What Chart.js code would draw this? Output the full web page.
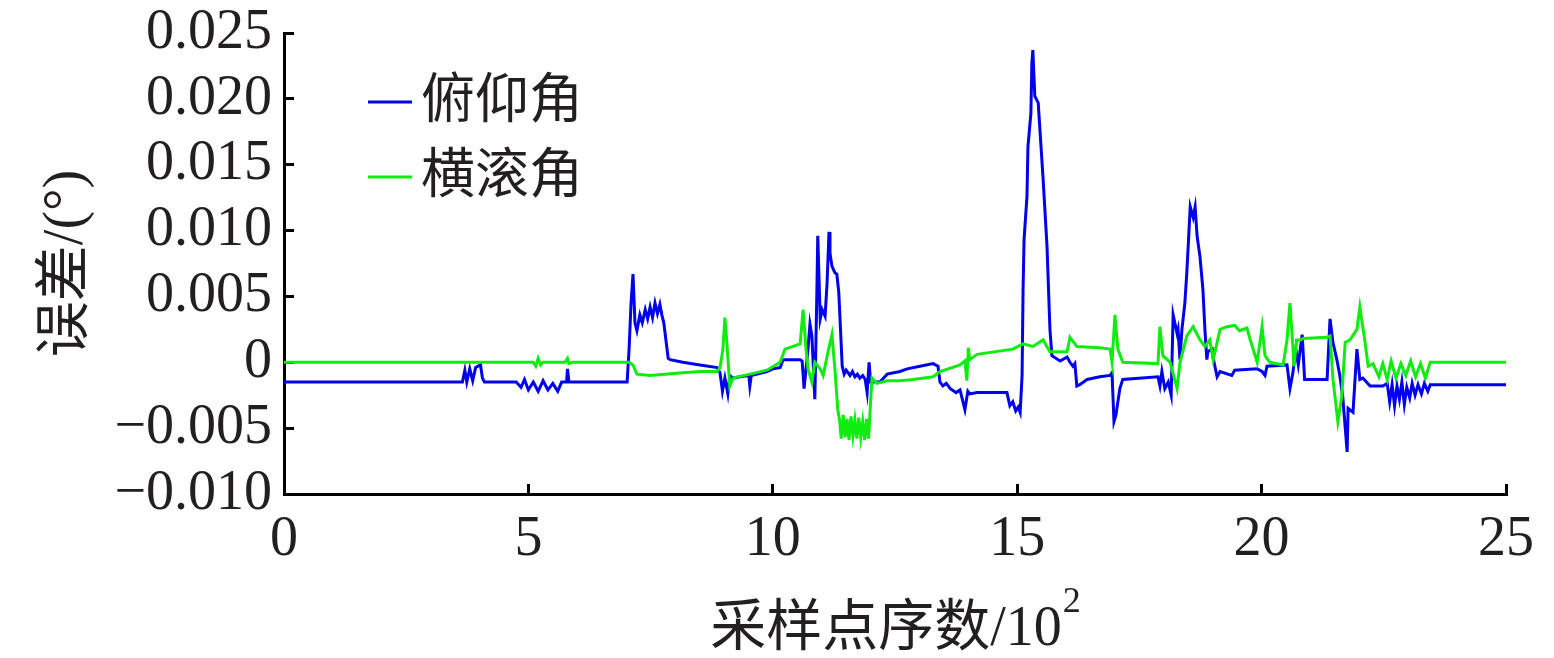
<!DOCTYPE html>
<html>
<head>
<meta charset="utf-8">
<script src="https://cdn.jsdelivr.net/npm/chart.js@4/dist/chart.umd.min.js"></script>
<style>
  html, body { margin: 0; padding: 0; background: #fff; }
  #wrap { width: 1554px; height: 658px; }
</style>
</head>
<body>
<div id="wrap"><canvas id="errChart" width="1554" height="658"></canvas></div>
<script>
// axis ticks
const xTicks = [0, 5, 10, 15, 20, 25];
const yTicks = [-0.010, -0.005, 0, 0.005, 0.010, 0.015, 0.020, 0.025];

const seriesNames = ['俯仰角', '横滚角'];

// 俯仰角 error, [sample index / 10^2, error in degrees]
const pitchPoints = [
  [0, -0.0015], [3.65, -0.0015], [3.70, -0.0006], [3.74, -0.0015], [3.80, -0.0005], [3.86, -0.0014],
  [3.92, -0.0004], [4.02, -0.0002], [4.06, -0.0012], [4.10, -0.0015], [4.75, -0.0015], [4.85, -0.0019],
  [4.92, -0.0013], [5.00, -0.0021], [5.10, -0.0015], [5.20, -0.0022], [5.30, -0.0014], [5.40, -0.0021],
  [5.50, -0.0016], [5.60, -0.0022], [5.68, -0.0015], [5.78, -0.0015], [5.80, -0.0005], [5.83, -0.0015],
  [7.02, -0.0015], [7.06, 0.0010], [7.10, 0.0045], [7.14, 0.0067], [7.18, 0.0030], [7.22, 0.0024],
  [7.28, 0.0036], [7.33, 0.0030], [7.39, 0.0040], [7.44, 0.0033], [7.49, 0.0042], [7.54, 0.0034],
  [7.59, 0.0045], [7.64, 0.0037], [7.69, 0.0044], [7.73, 0.0036], [7.77, 0.0030], [7.86, 0.0003],
  [7.90, 0.0002], [8.16, 0.0000], [8.51, -0.0002], [8.86, -0.0004], [8.92, -0.0008], [8.97, -0.0022],
  [9.02, -0.0012], [9.08, -0.0024], [9.12, -0.0010], [9.19, -0.0012], [9.33, -0.0011], [9.51, -0.0010],
  [9.53, -0.0018], [9.56, -0.0010], [9.88, -0.0007], [10.00, -0.0005], [10.15, -0.0004], [10.21, 0.0002],
  [10.56, 0.0002], [10.60, 0.0001], [10.64, -0.0020], [10.72, 0.0010], [10.76, 0.0029], [10.80, 0.0020],
  [10.86, -0.0028], [10.90, 0.0050], [10.92, 0.0096], [10.97, 0.0033], [11.01, 0.0040], [11.07, 0.0035],
  [11.11, 0.0060], [11.15, 0.0099], [11.17, 0.0083], [11.21, 0.0073], [11.27, 0.0068], [11.31, 0.0067],
  [11.35, 0.0053], [11.42, -0.0003], [11.46, -0.0009], [11.50, -0.0006], [11.58, -0.0010], [11.63, -0.0007],
  [11.68, -0.0011], [11.73, -0.0009], [11.78, -0.0012], [11.84, -0.0010], [11.89, -0.0013], [11.93, -0.0023],
  [11.97, 0.0000], [12.00, -0.0015], [12.19, -0.0015], [12.34, -0.0009], [12.60, -0.0007], [12.75, -0.0005],
  [13.01, -0.0003], [13.28, -0.0001], [13.38, -0.0003], [13.42, -0.0015], [13.48, -0.0018], [13.55, -0.0016],
  [13.63, -0.0020], [13.75, -0.0023], [13.83, -0.0021], [13.93, -0.0036], [13.99, -0.0022], [14.03, -0.0024],
  [14.18, -0.0023], [14.44, -0.0023], [14.79, -0.0023], [14.85, -0.0033], [14.91, -0.0030], [14.97, -0.0037],
  [15.02, -0.0034], [15.06, -0.0038], [15.10, -0.0010], [15.12, 0.0055], [15.14, 0.0093], [15.20, 0.0126],
  [15.22, 0.0164], [15.28, 0.0189], [15.30, 0.0227], [15.32, 0.0237], [15.36, 0.0202], [15.43, 0.0197],
  [15.53, 0.0139], [15.61, 0.0088], [15.67, 0.0025], [15.71, 0.0005], [15.88, 0.0001], [16.02, 0.0004],
  [16.08, 0.0000], [16.14, -0.0003], [16.18, -0.0001], [16.22, -0.0018], [16.28, -0.0017], [16.43, -0.0013],
  [16.69, -0.0011], [16.90, -0.0010], [16.94, -0.0008], [16.98, -0.0045], [17.02, -0.0040], [17.10, -0.0020],
  [17.16, -0.0013], [17.88, -0.0011], [17.92, -0.0018], [17.96, -0.0007], [18.02, -0.0020], [18.09, -0.0015],
  [18.15, -0.0025], [18.19, 0.0036], [18.27, 0.0022], [18.29, 0.0025], [18.33, 0.0002], [18.37, 0.0025],
  [18.43, 0.0045], [18.47, 0.0068], [18.54, 0.0118], [18.60, 0.0110], [18.64, 0.0118], [18.68, 0.0096],
  [18.74, 0.0080], [18.80, 0.0055], [18.84, 0.0025], [18.88, 0.0002], [18.90, 0.0008], [18.99, 0.0010],
  [19.01, 0.0003], [19.09, -0.0011], [19.15, -0.0007], [19.39, -0.0010], [19.45, -0.0006], [19.91, -0.0005],
  [20.01, -0.0007], [20.07, -0.0010], [20.11, -0.0003], [20.52, -0.0002], [20.58, -0.0020], [20.64, -0.0008],
  [20.70, 0.0010], [20.75, -0.0002], [20.83, 0.0021], [20.88, -0.0013], [21.34, -0.0013], [21.40, 0.0033],
  [21.46, 0.0015], [21.54, 0.0002], [21.60, -0.0010], [21.66, -0.0026], [21.75, -0.0068], [21.77, -0.0035],
  [21.87, -0.0038], [21.95, 0.0010], [22.01, -0.0013], [22.07, -0.0012], [22.22, -0.0018], [22.48, -0.0018],
  [22.57, -0.0016], [22.62, -0.0030], [22.67, -0.0017], [22.72, -0.0033], [22.77, -0.0018], [22.82, -0.0028],
  [22.87, -0.0015], [22.92, -0.0032], [22.97, -0.0019], [23.03, -0.0027], [23.08, -0.0016], [23.14, -0.0025],
  [23.20, -0.0017], [23.27, -0.0024], [23.33, -0.0016], [23.40, -0.0022], [23.45, -0.0017], [25.00, -0.0017]
];

// 横滚角 error
const rollPoints = [
  [0, 0], [5.10, 0], [5.15, -0.0003], [5.20, 0.0003], [5.25, -0.0002], [5.30, 0], [5.75, 0],
  [5.80, 0.0003], [5.83, -0.0001], [5.90, 0], [7.06, 0], [7.14, -0.0002], [7.22, -0.0009],
  [7.49, -0.0010], [8.16, -0.0008], [8.51, -0.0007], [8.86, -0.0007], [8.92, -0.0004], [8.98, 0.0010],
  [9.02, 0.0034], [9.06, 0.0015], [9.12, -0.0018], [9.19, -0.0012], [9.53, -0.0009], [9.88, -0.0006],
  [10.15, 0], [10.25, 0.0010], [10.56, 0.0014], [10.62, 0.0040], [10.68, 0.0010], [10.72, -0.0005],
  [10.80, -0.0015], [10.86, 0], [10.97, -0.0005], [11.03, -0.0010], [11.13, 0.0008], [11.21, 0.0021],
  [11.27, -0.0005], [11.33, -0.0036], [11.37, -0.0045], [11.40, -0.0058], [11.44, -0.0040], [11.48, -0.0057],
  [11.52, -0.0043], [11.56, -0.0059], [11.60, -0.0041], [11.64, -0.0056], [11.68, -0.0044], [11.72, -0.0058],
  [11.76, -0.0042], [11.80, -0.0057], [11.84, -0.0045], [11.88, -0.0059], [11.92, -0.0043], [11.96, -0.0058],
  [12.00, -0.0030], [12.03, -0.0012], [12.13, -0.0016], [12.34, -0.0014], [12.60, -0.0014], [12.87, -0.0013],
  [13.28, -0.0011], [13.42, -0.0007], [13.83, -0.0002], [13.93, 0.0001], [13.97, -0.0014], [14.00, 0.0011],
  [14.03, 0.0002], [14.18, 0.0006], [14.91, 0.0010], [15.12, 0.0014], [15.32, 0.0012], [15.53, 0.0017],
  [15.67, 0.0008], [16.02, 0.0008], [16.08, 0.0019], [16.22, 0.0012], [16.69, 0.0011], [16.90, 0.0010],
  [16.94, 0], [17.00, 0.0036], [17.06, 0.0010], [17.16, 0], [17.88, -0.0001], [17.92, 0.0027],
  [17.98, 0.0005], [18.13, 0.0000], [18.27, -0.0020], [18.33, 0], [18.47, 0.0020], [18.60, 0.0027],
  [18.74, 0.0017], [18.84, 0.0012], [18.94, 0.0017], [19.01, 0.0002], [19.15, 0.0025], [19.29, 0.0027],
  [19.45, 0.0028], [19.55, 0.0024], [19.70, 0.0026], [19.76, 0.0018], [19.91, 0], [20.01, 0.0027],
  [20.07, 0.0005], [20.17, 0.0000], [20.44, -0.0002], [20.52, 0.0017], [20.58, 0.0045], [20.64, 0.0012],
  [20.66, -0.0003], [20.72, 0.0017], [20.79, 0.0017], [20.85, 0.0018], [21.34, 0.0019], [21.40, 0.0020],
  [21.46, -0.0013], [21.56, -0.0045], [21.64, -0.0026], [21.71, 0.0015], [21.81, 0.0017], [21.95, 0.0025],
  [22.01, 0.0042], [22.11, 0.0017], [22.18, -0.0003], [22.28, -0.0001], [22.40, -0.0011], [22.48, -0.0001],
  [22.57, -0.0013], [22.65, 0.0001], [22.75, -0.0012], [22.85, -0.0001], [22.95, -0.0010], [23.05, 0.0001],
  [23.15, -0.0011], [23.25, -0.0001], [23.35, -0.0012], [23.45, 0], [25.00, 0]
];

const serif = '"Liberation Serif", "Noto Sans CJK SC", serif';
const textColor = '#231f20';

// Legend inside the plot area + x title with a real superscript
const extras = {
  id: 'extras',
  afterDraw(chart) {
    const ctx = chart.ctx;
    const area = chart.chartArea;
    ctx.save();
    ctx.font = '54px ' + serif;
    ctx.textBaseline = 'middle';
    ctx.fillStyle = textColor;
    chart.data.datasets.forEach((ds, i) => {
      const y = 102 + i * 75;
      ctx.strokeStyle = ds.borderColor;
      ctx.lineWidth = 3;
      ctx.beginPath();
      ctx.moveTo(368, y);
      ctx.lineTo(412, y);
      ctx.stroke();
      ctx.fillText(ds.label, 421, y + 2);
    });

    // x axis title: 采样点序数/10^2
    const main = '采样点序数/10';
    const sup = '2';
    ctx.font = '56px ' + serif;
    const wMain = ctx.measureText(main).width;
    ctx.font = '36px ' + serif;
    const wSup = ctx.measureText(sup).width;
    const x0 = (area.left + area.right) / 2 - (wMain + wSup) / 2;
    ctx.textBaseline = 'alphabetic';
    ctx.textAlign = 'left';
    ctx.font = '56px ' + serif;
    ctx.fillText(main, x0, 645);
    ctx.font = '36px ' + serif;
    ctx.fillText(sup, x0 + wMain + 1, 612);
    ctx.restore();
  }
};

const toXY = pts => pts.map(p => ({ x: p[0], y: p[1] }));

new Chart(document.getElementById('errChart'), {
  type: 'line',
  data: {
    datasets: [{
      label: seriesNames[0],
      data: toXY(pitchPoints),
      borderColor: '#0000ee',
      borderWidth: 3,
      pointRadius: 0,
      tension: 0,
      order: 2
    }, {
      label: seriesNames[1],
      data: toXY(rollPoints),
      borderColor: '#10ec10',
      borderWidth: 3,
      pointRadius: 0,
      tension: 0,
      order: 1
    }]
  },
  options: {
    responsive: false,
    animation: false,
    layout: { padding: { left: 0, right: 48, top: 33, bottom: 0 } },
    plugins: {
      legend: { display: false },
      tooltip: { enabled: false }
    },
    scales: {
      x: {
        type: 'linear',
        min: 0,
        max: 25,
        afterBuildTicks: s => { s.ticks = xTicks.map(v => ({ value: v })); },
        afterFit: s => { s.height = 164; s.paddingLeft = 0; s.paddingRight = 0; },
        border: { display: true, color: '#000', width: 3 },
        grid: { drawOnChartArea: false, drawTicks: true, tickLength: -10, color: '#000', lineWidth: 3 },
        ticks: {
          color: textColor,
          font: { family: serif, size: 56, lineHeight: 1 },
          padding: 28,
          maxRotation: 0,
          callback: v => String(v)
        }
      },
      y: {
        type: 'linear',
        min: -0.010,
        max: 0.025,
        afterBuildTicks: s => { s.ticks = yTicks.map(v => ({ value: v })); },
        afterFit: s => { s.width = 284; s.paddingTop = 0; s.paddingBottom = 0; },
        border: { display: true, color: '#000', width: 3 },
        grid: { drawOnChartArea: false, drawTicks: true, tickLength: -10, color: '#000', lineWidth: 3 },
        ticks: {
          color: textColor,
          font: { family: serif, size: 56, lineHeight: 1 },
          padding: 22,
          callback: v => {
            const r = Math.round(v * 1000) / 1000;
            if (r === 0) return '0';
            return (r < 0 ? '\u2212' : '') + Math.abs(r).toFixed(3);
          }
        },
        title: {
          display: true,
          text: '误差/(°)',
          color: textColor,
          font: { family: serif, size: 56, lineHeight: 1 },
          padding: { top: 39, bottom: 0 }
        }
      }
    }
  },
  plugins: [extras]
});
</script>
</body>
</html>
